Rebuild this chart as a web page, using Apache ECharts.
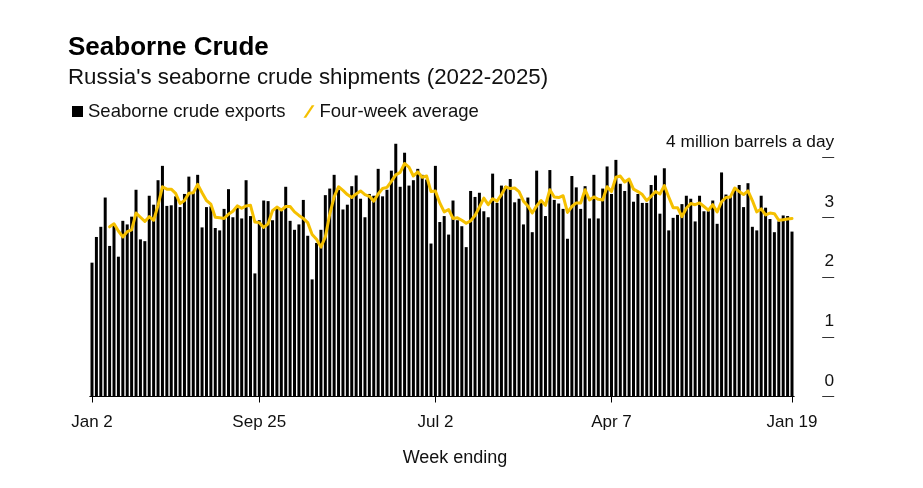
<!DOCTYPE html>
<html>
<head>
<meta charset="utf-8">
<title>Seaborne Crude</title>
<script src="https://cdn.jsdelivr.net/npm/echarts@6.0.0/dist/echarts.min.js"></script>
<style>
  html, body { margin: 0; padding: 0; background: #fff; }
  #seaborneChart { width: 923px; height: 488px; }
</style>
</head>
<body>
<div id="seaborneChart"></div>
<script>
// weekly exports, million barrels a day (week ending Jan 2 2022 .. Jan 19 2025)
const exportsData = [
  2.24, 2.67, 2.84, 3.33, 2.52, 2.88, 2.34, 2.94, 2.88, 3.01,
  3.46, 2.63, 2.60, 3.36, 3.21, 3.62, 3.86, 3.19, 3.20, 3.35,
  3.17, 3.39, 3.68, 3.41, 3.71, 2.83, 3.17, 3.18, 2.82, 2.78,
  3.14, 3.47, 3.00, 3.16, 2.98, 3.62, 3.02, 2.06, 2.95, 3.28,
  3.27, 2.95, 3.16, 3.11, 3.51, 2.94, 2.79, 2.88, 3.29, 2.69,
  1.96, 2.57, 2.79, 3.37, 3.48, 3.71, 3.46, 3.13, 3.21, 3.52,
  3.70, 3.31, 3.00, 3.39, 3.36, 3.81, 3.35, 3.46, 3.78, 4.23,
  3.51, 4.08, 3.53, 3.62, 3.81, 3.71, 3.63, 2.56, 3.86, 2.92,
  3.02, 2.71, 3.28, 2.95, 2.85, 2.50, 3.44, 3.34, 3.41, 3.10,
  3.00, 3.73, 3.24, 3.53, 3.52, 3.64, 3.25, 3.31, 2.88, 3.33,
  2.75, 3.78, 3.24, 3.02, 3.79, 3.29, 3.23, 3.14, 2.64, 3.69,
  3.50, 3.14, 3.52, 2.98, 3.71, 2.98, 3.48, 3.85, 3.39, 3.96,
  3.56, 3.44, 3.61, 3.26, 3.39, 3.24, 3.24, 3.54, 3.70, 3.06,
  3.82, 2.78, 2.99, 3.04, 3.22, 3.36, 3.31, 2.93, 3.36, 3.10,
  3.10, 3.28, 2.89, 3.75, 3.38, 3.35, 3.46, 3.54, 3.17, 3.57,
  2.84, 2.78, 3.36, 3.16, 2.97, 2.75, 2.93, 3.03, 3.02, 2.76
];

// four-week average as drawn (starts on the fifth week)
const fourWeekAvg = [
  null, null, null, null, 2.84, 2.89, 2.77, 2.67, 2.76, 2.79,
  3.07, 3.00, 2.93, 3.01, 2.95, 3.20, 3.51, 3.47, 3.47, 3.40,
  3.23, 3.28, 3.40, 3.41, 3.55, 3.41, 3.28, 3.22, 3.00, 2.99,
  2.98, 3.05, 3.10, 3.19, 3.15, 3.19, 3.20, 2.92, 2.91, 2.83,
  2.89, 3.11, 3.17, 3.12, 3.18, 3.18, 3.09, 3.03, 2.98, 2.91,
  2.71, 2.63, 2.50, 2.67, 3.05, 3.34, 3.51, 3.45, 3.38, 3.33,
  3.39, 3.44, 3.38, 3.35, 3.27, 3.39, 3.48, 3.50, 3.60, 3.71,
  3.75, 3.90, 3.84, 3.69, 3.76, 3.67, 3.69, 3.43, 3.44, 3.24,
  3.09, 3.13, 2.98, 2.99, 2.95, 2.90, 2.94, 3.03, 3.17, 3.32,
  3.21, 3.31, 3.27, 3.38, 3.51, 3.48, 3.49, 3.43, 3.27, 3.19,
  3.07, 3.19, 3.28, 3.20, 3.46, 3.34, 3.33, 3.36, 3.08, 3.18,
  3.24, 3.24, 3.46, 3.29, 3.34, 3.30, 3.29, 3.51, 3.43, 3.67,
  3.69, 3.59, 3.64, 3.47, 3.43, 3.38, 3.28, 3.35, 3.43, 3.39,
  3.53, 3.34, 3.16, 3.16, 3.01, 3.15, 3.23, 3.21, 3.24, 3.18,
  3.12, 3.21, 3.09, 3.26, 3.33, 3.34, 3.49, 3.43, 3.38, 3.44,
  3.28, 3.09, 3.14, 3.04, 3.07, 3.06, 2.95, 2.96, 2.97, 2.98
];

const tickWeeks = ['2022-01-02', '2022-09-25', '2023-07-02', '2024-04-07', '2025-01-19'];
const tickLabels = ['Jan 2', 'Sep 25', 'Jul 2', 'Apr 7', 'Jan 19'];

// week-ending dates, one per bar
const weeks = [];
const firstWeek = Date.UTC(2022, 0, 2);
for (let i = 0; i < exportsData.length; i++) {
  weeks.push(new Date(firstWeek + i * 7 * 86400000).toISOString().slice(0, 10));
}

const FONT = '"Liberation Sans", Arial, Helvetica, sans-serif';
const isTick = (idx, value) => tickWeeks.indexOf(value) !== -1;

const chart = echarts.init(document.getElementById('seaborneChart'));

const option = {
  backgroundColor: '#fff',
  animation: false,
  textStyle: { fontFamily: FONT },
  title: {
    text: 'Seaborne Crude',
    subtext: "Russia's seaborne crude shipments (2022-2025)",
    left: 68,
    top: 35,
    itemGap: 6,
    padding: 0,
    textStyle: { fontFamily: FONT, fontSize: 26, fontWeight: 'bold', color: '#000' },
    subtextStyle: { fontFamily: FONT, fontSize: 22.3, color: '#111' }
  },
  legend: {
    left: 72,
    top: 102,
    padding: 0,
    itemWidth: 11,
    itemHeight: 13,
    itemGap: 18,
    textStyle: { fontFamily: FONT, fontSize: 18.5, color: '#111' },
    data: [
      { name: 'Seaborne crude exports', icon: 'path://M0,1 L10,1 L10,11 L0,11 Z' },
      { name: 'Four-week average', icon: 'path://M0,13 L2.8,13 L11.5,0 L8.7,0 Z' }
    ]
  },
  grid: {
    left: 89.8,
    right: 128.8,
    top: 157.5,
    bottom: 91.5
  },
  xAxis: {
    type: 'category',
    data: weeks,
    boundaryGap: true,
    name: 'Week ending',
    nameLocation: 'middle',
    nameGap: 53,
    nameTextStyle: { fontFamily: FONT, fontSize: 18, color: '#111', padding: [0, 0, 0, 26] },
    axisLine: { show: true, lineStyle: { color: '#000', width: 1 } },
    axisTick: {
      show: true,
      alignWithLabel: true,
      interval: isTick,
      length: 6,
      lineStyle: { color: '#000' }
    },
    axisLabel: {
      interval: isTick,
      margin: 17,
      fontFamily: FONT,
      fontSize: 17,
      color: '#111',
      formatter: v => tickLabels[tickWeeks.indexOf(v)]
    },
    splitLine: { show: false }
  },
  yAxis: {
    type: 'value',
    position: 'right',
    offset: 28,
    min: 0,
    max: 4,
    interval: 1,
    axisLine: { show: false },
    axisTick: { show: true, length: 12, lineStyle: { color: '#333' } },
    splitLine: { show: false },
    axisLabel: {
      margin: 12,
      align: 'right',
      verticalAlign: 'bottom',
      padding: [0, 0, 7, 0],
      fontFamily: FONT,
      fontSize: 17.3,
      color: '#111',
      formatter: v => (v === 4 ? '4 million barrels a day' : String(v))
    }
  },
  series: [
    {
      name: 'Seaborne crude exports',
      type: 'bar',
      data: exportsData,
      barCategoryGap: '32%',
      clip: false,
      itemStyle: { color: '#000' }
    },
    {
      name: 'Four-week average',
      type: 'line',
      data: fourWeekAvg,
      showSymbol: false,
      symbol: 'none',
      clip: false,
      itemStyle: { color: '#f5c000' },
      lineStyle: { color: '#f5c000', width: 3, cap: 'round', join: 'round' },
      z: 3
    }
  ]
};

chart.setOption(option);
</script>
</body>
</html>
